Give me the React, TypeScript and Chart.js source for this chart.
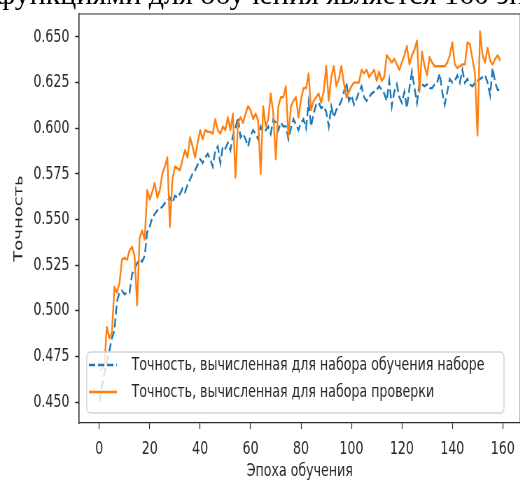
import { useEffect, useRef } from "react";
import { Chart, registerables } from "chart.js";

Chart.register(...registerables);

// Accuracy on the training set (blue, dashed), epochs 0..159
const TRAIN_ACC = [
  0.450, 0.458, 0.466, 0.472, 0.478, 0.485, 0.489, 0.505, 0.510, 0.511,
  0.509, 0.510, 0.510, 0.520, 0.523, 0.526, 0.528, 0.527, 0.530, 0.543,
  0.546, 0.551, 0.553, 0.555, 0.556, 0.557, 0.559, 0.560, 0.562, 0.559,
  0.563, 0.562, 0.564, 0.567, 0.565, 0.569, 0.572, 0.575, 0.577, 0.580,
  0.583, 0.581, 0.584, 0.586, 0.583, 0.579, 0.588, 0.590, 0.581, 0.590,
  0.589, 0.592, 0.588, 0.596, 0.600, 0.606, 0.595, 0.597, 0.594, 0.590,
  0.596, 0.599, 0.597, 0.594, 0.601, 0.598, 0.599, 0.601, 0.597, 0.605,
  0.603, 0.599, 0.603, 0.601, 0.601, 0.594, 0.600, 0.605, 0.602, 0.599,
  0.603, 0.605, 0.600, 0.614, 0.601, 0.608, 0.613, 0.614, 0.611, 0.612,
  0.609, 0.601, 0.612, 0.606, 0.610, 0.612, 0.615, 0.620, 0.625, 0.615,
  0.618, 0.613, 0.616, 0.620, 0.623, 0.617, 0.615, 0.617, 0.619, 0.620,
  0.621, 0.623, 0.621, 0.619, 0.615, 0.626, 0.612, 0.620, 0.624, 0.617,
  0.614, 0.620, 0.611, 0.622, 0.631, 0.622, 0.614, 0.625, 0.624, 0.623,
  0.624, 0.622, 0.622, 0.624, 0.625, 0.630, 0.620, 0.613, 0.620, 0.627,
  0.625, 0.626, 0.629, 0.625, 0.632, 0.625, 0.627, 0.624, 0.623, 0.625,
  0.626, 0.627, 0.628, 0.629, 0.625, 0.618, 0.633, 0.625, 0.621, 0.621,
];

// Accuracy on the validation set (orange, solid), epochs 0..159
const VAL_ACC = [
  0.467, 0.468, 0.470, 0.491, 0.485, 0.488, 0.513, 0.510, 0.515, 0.528,
  0.529, 0.528, 0.533, 0.535, 0.530, 0.503, 0.540, 0.544, 0.539, 0.566,
  0.561, 0.565, 0.570, 0.562, 0.566, 0.575, 0.579, 0.584, 0.546, 0.572,
  0.579, 0.578, 0.577, 0.583, 0.588, 0.584, 0.595, 0.590, 0.584, 0.592,
  0.599, 0.594, 0.599, 0.598, 0.598, 0.597, 0.605, 0.599, 0.597, 0.601,
  0.599, 0.606, 0.599, 0.608, 0.573, 0.603, 0.606, 0.603, 0.608, 0.612,
  0.610, 0.605, 0.608, 0.604, 0.575, 0.612, 0.601, 0.605, 0.619, 0.608,
  0.583, 0.612, 0.617, 0.617, 0.623, 0.595, 0.612, 0.615, 0.617, 0.606,
  0.616, 0.622, 0.622, 0.630, 0.610, 0.615, 0.617, 0.619, 0.614, 0.620,
  0.634, 0.615, 0.628, 0.634, 0.623, 0.627, 0.634, 0.625, 0.617, 0.620,
  0.623, 0.625, 0.625, 0.625, 0.632, 0.630, 0.632, 0.628, 0.630, 0.632,
  0.626, 0.631, 0.626, 0.628, 0.640, 0.638, 0.636, 0.638, 0.635, 0.632,
  0.636, 0.640, 0.645, 0.635, 0.640, 0.643, 0.648, 0.620, 0.642, 0.634,
  0.629, 0.639, 0.636, 0.634, 0.634, 0.634, 0.634, 0.634, 0.636, 0.640,
  0.647, 0.635, 0.633, 0.634, 0.635, 0.635, 0.647, 0.646, 0.638, 0.630,
  0.596, 0.653, 0.640, 0.636, 0.644, 0.637, 0.635, 0.638, 0.640, 0.637,
];

const EPOCHS = TRAIN_ACC.map((_, i) => i);

const X_TICKS = [0, 20, 40, 60, 80, 100, 120, 140, 160];
const Y_TICKS = [0.45, 0.475, 0.5, 0.525, 0.55, 0.575, 0.6, 0.625, 0.65];
const X_LIMITS = [-7.95, 166.95];
const Y_LIMITS = [0.4385, 0.6626];

const SERIES_LABELS = [
  "Точность, вычисленная для набора обучения наборе",
  "Точность, вычисленная для набора проверки",
];
const X_TITLE = "Эпоха обучения";
const Y_TITLE = "Точность";
const CAPTION = "функциями для обучения является 160 эпох";

const BLUE = "#1f77b4";
const ORANGE = "#ff7f0e";
const SQUEEZE = 0.7;
const CW = 800;
const CH = 480;
const AREA_LEFT = 113.2;
const AREA_RIGHT = 743.2;
const AREA_TOP = 14;
const AREA_BOTTOM = 423;
const FONT = "DejaVu Sans";
const TEXT = "#262626";
const AXIS = "#2a2a2a";

const framePlugin = {
  id: "frame",
  afterDraw(chart: any) {
    const { ctx, chartArea } = chart;
    ctx.save();
    ctx.strokeStyle = AXIS;
    ctx.lineWidth = 1.2;
    ctx.beginPath();
    ctx.moveTo(chartArea.left, chartArea.top);
    ctx.lineTo(chartArea.right, chartArea.top);
    ctx.lineTo(chartArea.right, chartArea.bottom);
    ctx.stroke();
    ctx.restore();
  },
};

const innerLegendPlugin = {
  id: "innerLegend",
  afterDatasetsDraw(chart: any) {
    const { ctx } = chart;
    const x0 = 124;
    const y0 = 352;
    const w = 596;
    const h = 61;
    ctx.save();
    ctx.beginPath();
    if (ctx.roundRect) ctx.roundRect(x0, y0, w, h, 5);
    else ctx.rect(x0, y0, w, h);
    ctx.fillStyle = "rgba(255,255,255,0.8)";
    ctx.fill();
    ctx.strokeStyle = "#d4d4d4";
    ctx.lineWidth = 1.4;
    ctx.stroke();

    const rows = [
      { y: 365, ds: chart.data.datasets[1] },
      { y: 392, ds: chart.data.datasets[0] },
    ];
    rows.forEach((r) => {
      ctx.beginPath();
      ctx.setLineDash(r.ds.borderDash || []);
      ctx.strokeStyle = r.ds.borderColor;
      ctx.lineWidth = r.ds.borderWidth;
      ctx.moveTo(127, r.y);
      ctx.lineTo(167, r.y);
      ctx.stroke();
      ctx.setLineDash([]);
      ctx.fillStyle = TEXT;
      ctx.font = `18px "${FONT}"`;
      ctx.textBaseline = "middle";
      ctx.textAlign = "left";
      ctx.fillText(r.ds.label, 188, r.y);
    });
    ctx.restore();
  },
};

export default function App() {
  const ref = useRef<HTMLCanvasElement | null>(null);

  useEffect(() => {
    if (!ref.current) return;
    const chart = new Chart(ref.current, {
      type: "line",
      data: {
        datasets: [
          {
            label: SERIES_LABELS[1],
            data: EPOCHS.map((e, i) => ({ x: e, y: VAL_ACC[i] })),
            borderColor: ORANGE,
            backgroundColor: ORANGE,
            borderWidth: 2.4,
            pointRadius: 0,
            tension: 0,
            borderJoinStyle: "round",
            order: 0,
          },
          {
            label: SERIES_LABELS[0],
            data: EPOCHS.map((e, i) => ({ x: e, y: TRAIN_ACC[i] })),
            borderColor: BLUE,
            backgroundColor: BLUE,
            borderWidth: 2.4,
            borderDash: [9, 4],
            pointRadius: 0,
            tension: 0,
            order: 1,
          },
        ],
      },
      options: {
        animation: false,
        responsive: false,
        maintainAspectRatio: false,
        devicePixelRatio: 1,
        layout: {
          padding: { left: 0, right: CW - AREA_RIGHT, top: AREA_TOP, bottom: 0 },
        },
        plugins: { legend: { display: false }, tooltip: { enabled: false } },
        scales: {
          x: {
            type: "linear",
            min: X_LIMITS[0],
            max: X_LIMITS[1],
            afterBuildTicks: (s: any) => {
              s.ticks = X_TICKS.map((value) => ({ value }));
            },
            afterFit: (s: any) => {
              s.height = CH - AREA_BOTTOM;
              s.paddingLeft = 0;
              s.paddingRight = 0;
            },
            ticks: {
              autoSkip: false,
              maxRotation: 0,
              padding: 10,
              color: TEXT,
              font: { family: FONT, size: 18 },
              callback: (v: any) => String(v),
            },
            grid: {
              display: true,
              drawOnChartArea: false,
              drawTicks: true,
              tickLength: 6,
              tickWidth: 1.2,
              tickColor: AXIS,
            },
            border: { display: true, color: AXIS, width: 1.2 },
            title: {
              display: true,
              text: X_TITLE,
              color: TEXT,
              font: { family: FONT, size: 18 },
              padding: { top: 0, bottom: -2 },
            },
          },
          y: {
            type: "linear",
            min: Y_LIMITS[0],
            max: Y_LIMITS[1],
            afterBuildTicks: (s: any) => {
              s.ticks = Y_TICKS.map((value) => ({ value }));
            },
            afterFit: (s: any) => {
              s.width = AREA_LEFT;
              s.paddingTop = 0;
              s.paddingBottom = 0;
            },
            ticks: {
              autoSkip: false,
              padding: 8,
              color: TEXT,
              font: { family: FONT, size: 18 },
              callback: (v: any) => Number(v).toFixed(3),
            },
            grid: {
              display: true,
              drawOnChartArea: false,
              drawTicks: true,
              tickLength: 6,
              tickWidth: 1.4,
              tickColor: AXIS,
            },
            border: { display: true, color: AXIS, width: 1.6 },
            title: {
              display: true,
              text: Y_TITLE,
              color: TEXT,
              font: { family: FONT, size: 18 },
              padding: { top: 17, bottom: 4 },
            },
          },
        },
      } as any,
      plugins: [framePlugin, innerLegendPlugin],
    });
    return () => chart.destroy();
  }, []);

  return (
    <div
      style={{
        position: "fixed",
        left: 0,
        top: 0,
        width: 520,
        height: 480,
        overflow: "hidden",
        background: "#fff",
      }}
    >
      <div
        style={{
          position: "absolute",
          left: 0,
          top: 0,
          width: CW,
          height: CH,
          transform: `scaleX(${SQUEEZE})`,
          transformOrigin: "0 0",
        }}
      >
        <canvas
          ref={ref}
          width={CW}
          height={CH}
          style={{ width: CW, height: CH, display: "block" }}
        />
      </div>
      <div
        style={{
          position: "absolute",
          left: -4,
          top: -21,
          fontFamily: '"Liberation Serif", serif',
          fontSize: 30,
          lineHeight: "30px",
          whiteSpace: "nowrap",
          color: "#000",
        }}
      >
        {CAPTION}
      </div>
    </div>
  );
}
